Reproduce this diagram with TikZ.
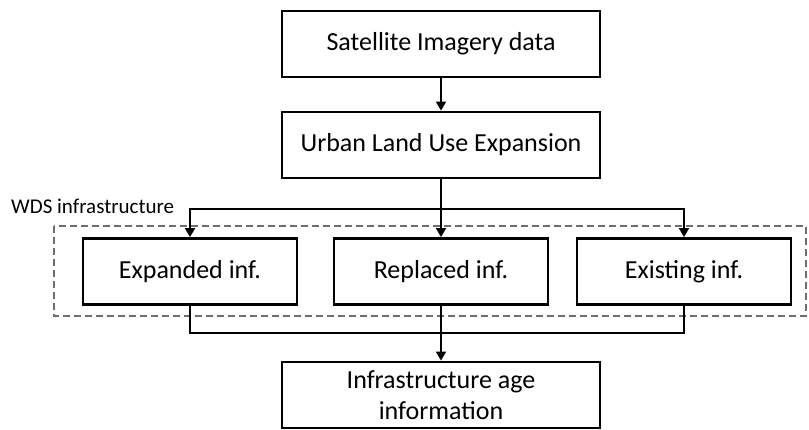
\documentclass[tikz,border=0pt]{standalone}
\usepackage{fontspec}
\setmainfont{Carlito}
\usepackage{tikz}
\usetikzlibrary{arrows.meta}
\definecolor{ink}{HTML}{000000}
\definecolor{frame}{HTML}{6E6E6E}
\tikzset{
  box/.style={draw=ink, line width=2.8pt, minimum height=66pt, align=center,
    font=\fontsize{26}{31}\selectfont, inner sep=0pt},
  wide/.style={box, minimum width=318pt},
  narrow/.style={box, minimum width=214pt},
  link/.style={draw=ink, line width=1.8pt},
  flow/.style={link, -{Triangle[length=9pt,width=10pt]}},
  group/.style={draw=frame, dashed, dash pattern=on 7pt off 4pt, line width=1.4pt},
  grouplab/.style={font=\fontsize{21}{25}\selectfont, anchor=west, inner sep=0pt},
}

\begin{document}
\begin{tikzpicture}[x=1pt,y=-1pt]
  \useasboundingbox (0,0) rectangle (809,430);

  % dashed frame around the three infrastructure boxes
  \draw[group] (54,226) rectangle (806,316);
  \node[grouplab] (wds) at (11,206) {WDS infrastructure};

  \node[wide] (sat) at (441,44) {Satellite Imagery data};
  \node[wide] (ulu) at (441,145) {Urban Land Use Expansion};

  \node[narrow] (exp) at (190,271.5) {Expanded inf.};
  \node[narrow] (rep) at (441,271.5) {Replaced inf.};
  \node[narrow] (exi) at (684,271.5) {Existing inf.};

  \node[wide] (age) at (441,395) {Infrastructure age\\information};

  \coordinate (split) at (441,209);
  \coordinate (merge) at (441,333);

  \draw[flow] (sat) -- (ulu);
  \draw[link] (ulu) -- (split);
  \draw[flow] (split) -| (exp.north);
  \draw[flow] (split) -| (exi.north);
  \draw[flow] (split) -- (rep);

  \draw[link] (exp.south) |- (merge);
  \draw[link] (exi.south) |- (merge);
  \draw[flow] (rep) -- (age);
\end{tikzpicture}
\end{document}
